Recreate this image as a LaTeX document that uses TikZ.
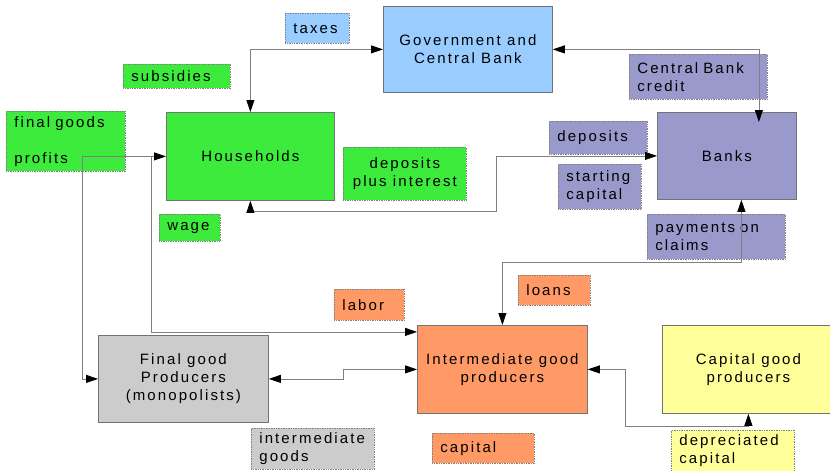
\documentclass[tikz,border=0pt]{standalone}
\usepackage{fontspec}
\setmainfont[LetterSpace=14]{Liberation Sans}
\usetikzlibrary{arrows.meta}

\definecolor{govblue}{HTML}{99CCFF}
\definecolor{hhgreen}{HTML}{3DEB3D}
\definecolor{bankviolet}{HTML}{9999CC}
\definecolor{imorange}{HTML}{FF9966}
\definecolor{fggray}{HTML}{CCCCCC}
\definecolor{capyellow}{HTML}{FFFF99}

\begin{document}
\begin{tikzpicture}[x=1pt, y=-1pt,
    every node/.style={font=\fontsize{15}{18}\selectfont, anchor=north west},
    mainbox/.style={draw=black!55, line width=0.8pt, align=center, inner sep=2pt},
    labbox/.style={draw=black!50, densely dotted, line width=0.7pt, align=left, inner xsep=8pt, inner ysep=2pt},
    flow/.style={draw=black!50, line width=0.8pt},
    >={Triangle[length=12pt,width=8pt,color=black]}
  ]
  \useasboundingbox (0,0) rectangle (830,471);

  % sectors
  \node[mainbox, fill=govblue, minimum width=169pt, minimum height=86pt] (gov) at (383,6) {Government and\\Central Bank};
  \node[mainbox, fill=hhgreen, minimum width=168pt, minimum height=88pt] (hh) at (166,112) {Households};
  \node[mainbox, fill=bankviolet, minimum width=139pt, minimum height=87pt] (banks) at (657,112) {Banks};
  \node[mainbox, fill=imorange, minimum width=170pt, minimum height=88pt] (im) at (417,325) {Intermediate good\\producers};
  \node[mainbox, fill=fggray, minimum width=170pt, minimum height=87pt] (fg) at (98,335) {Final good\\Producers\\(monopolists)};
  \node[mainbox, fill=capyellow, minimum width=172pt, minimum height=88pt] (cap) at (662,325) {Capital good\\producers};

  % flow labels
  \node[labbox, fill=govblue, text width=48pt, minimum height=30pt] (taxes) at (285,13) {taxes};
  \node[labbox, fill=hhgreen, text width=91pt, minimum height=24pt] (subsidies) at (123,64) {subsidies};
  \node[labbox, fill=hhgreen, text width=103pt, minimum height=60pt] (profits) at (6,111) {final goods\\[18pt]profits};
  \node[labbox, fill=hhgreen, align=center, minimum width=123pt, minimum height=53pt] (depint) at (343,147) {deposits\\plus interest};
  \node[labbox, fill=hhgreen, text width=45pt, minimum height=27pt] (wage) at (159,214) {wage};
  \node[labbox, fill=bankviolet, text width=122pt, minimum height=45pt] (cbcredit) at (629,54) {Central Bank\\credit};
  \node[labbox, fill=bankviolet, text width=82pt, minimum height=33pt] (deposits) at (549,121) {deposits};
  \node[labbox, fill=bankviolet, text width=67pt, minimum height=45pt] (startcap) at (558,164) {starting\\capital};
  \node[labbox, fill=bankviolet, text width=122pt, minimum height=45pt] (claims) at (647,214) {payments on\\claims};
  \node[labbox, fill=imorange, text width=56pt, minimum height=30pt] (loans) at (518,275) {loans};
  \node[labbox, fill=imorange, text width=54pt, minimum height=31pt] (labor) at (334,289) {labor};
  \node[labbox, fill=fggray, text width=107pt, minimum height=41pt] (intgoods) at (251,428) {intermediate\\goods};
  \node[labbox, fill=imorange, text width=86pt, minimum height=30pt] (capital) at (432,433) {capital};
  \node[labbox, fill=capyellow, text width=107pt, minimum height=41pt] (depcap) at (671,430) {depreciated\\capital};

  % flows between sectors
  \draw[flow, <->] (gov.west) -| (hh.north);
  \draw[flow, <->] (gov.east) -| ([xshift=32pt, yshift=-10pt]banks.north);
  \draw[flow, <->] (fg.west) -- ++(-16,0) |- (hh.west);
  \draw[flow, ->] ([xshift=-15pt]hh.west) |- ([yshift=37.5pt]im.west);
  \draw[flow, <->] (hh.south) -- ++(0,11) -| ([xshift=-161pt]banks.west) -- (banks.west);
  \draw[flow, <->] ([xshift=14.5pt]banks.south) -- ++(0,63) -| (im.north);
  \draw[flow, <->] (fg.east) -- ++(75,0) |- (im.west);
  \draw[flow, <->] (im.east) -- ++(38,0) -- ++(0,56.5) -| (cap.south);
\end{tikzpicture}
\end{document}
